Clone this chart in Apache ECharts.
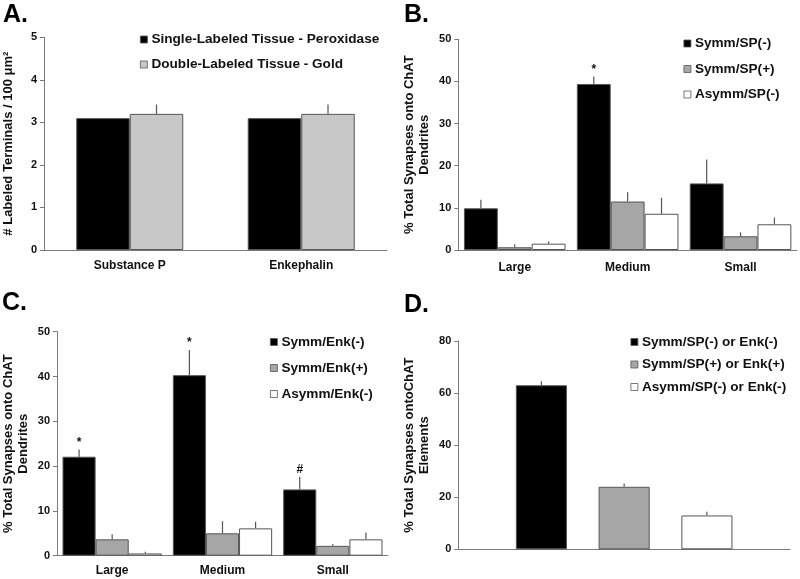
<!DOCTYPE html>
<html>
<head>
<meta charset="utf-8">
<script src="https://cdn.jsdelivr.net/npm/echarts@6/dist/echarts.min.js"></script>
<style>html,body{margin:0;padding:0;background:#fff}#c{width:800px;height:579px}</style>
</head>
<body>
<div id="c"></div>
<script>
// ---- Panel A ----
const catsA = ['Substance P', 'Enkephalin'];
const namesA = ['Single-Labeled Tissue - Peroxidase', 'Double-Labeled Tissue - Gold'];
const singleA = [3.1, 3.1];
const singleAErr = [0, 0];
const doubleA = [3.2, 3.2];
const doubleAErr = [0.22, 0.22];
const ticksA = [0, 1, 2, 3, 4, 5];

// ---- Panel B ----
const catsB = ['Large', 'Medium', 'Small'];
const namesB = ['Symm/SP(-)', 'Symm/SP(+)', 'Asymm/SP(-)'];
const symmSPneg = [9.9, 39.4, 15.8];
const symmSPnegErr = [2.0, 1.8, 5.7];
const symmSPpos = [0.65, 11.5, 3.25];
const symmSPposErr = [0.7, 2.2, 0.95];
const asymmSPneg = [1.5, 8.6, 6.1];
const asymmSPnegErr = [0.5, 3.8, 1.6];
const marksB = ['', '*', ''];

// ---- Panel C ----
const catsC = ['Large', 'Medium', 'Small'];
const namesC = ['Symm/Enk(-)', 'Symm/Enk(+)', 'Asymm/Enk(-)'];
const symmEnkNeg = [22.1, 40.3, 14.8];
const symmEnkNegErr = [1.6, 5.6, 2.8];
const symmEnkPos = [3.65, 5.0, 2.2];
const symmEnkPosErr = [1.15, 2.7, 0.4];
const asymmEnkNeg = [0.5, 6.1, 3.65];
const asymmEnkNegErr = [0.4, 1.5, 1.55];
const marksC = ['*', '*', '#'];

// ---- Panel D ----
const catsD = [''];
const namesD = ['Symm/SP(-) or Enk(-)', 'Symm/SP(+) or Enk(+)', 'Asymm/SP(-) or Enk(-)'];
const symmNegD = [63];
const symmNegDErr = [1.5];
const symmPosD = [24];
const symmPosDErr = [1.3];
const asymmNegD = [13];
const asymmNegDErr = [1.4];

const FONT = '"Liberation Sans", Arial, sans-serif';
const BLACK = '#000000', LGRAY = '#c8c8c8', MGRAY = '#a6a6a6', WHITE = '#ffffff';
const AXC = '#7a7a7a';

const layouts = [
  {catGap: 0.376, barGap: 0},
  {catGap: 0.10, barGap: 0},
  {catGap: 0.10, barGap: 0},
  {barWidthFrac: 0.154, barGap: 0.62}
];

function barSeries(g, name, data, color) {
  const L = layouts[g];
  const s = {
    type: 'bar', name: name, data: data, xAxisIndex: g, yAxisIndex: g,
    barGap: (L.barGap * 100) + '%',
    itemStyle: {color: color, borderColor: '#555', borderWidth: 1},
    emphasis: {disabled: true}, z: 2
  };
  if (L.barWidthFrac) s.barWidth = (L.barWidthFrac * 100) + '%';
  else s.barCategoryGap = (L.catGap * 100) + '%';
  return s;
}

function errSeries(g, n, i, vals, errs, marks) {
  const L = layouts[g];
  return {
    type: 'custom', xAxisIndex: g, yAxisIndex: g, z: 5, silent: true,
    data: vals.map((v, k) => [k, v, errs[k]]),
    encode: {x: 0, y: 1},
    renderItem: function (params, api) {
      const k = api.value(0), v = api.value(1), e = api.value(2);
      const catW = api.size([1, 0])[0];
      const gap = L.barGap;
      const bw = L.barWidthFrac ? catW * L.barWidthFrac : catW * (1 - L.catGap) / (n + (n - 1) * gap);
      const total = n * bw + (n - 1) * bw * gap;
      const off = -total / 2 + i * bw * (1 + gap) + bw / 2;
      const p0 = api.coord([k, v]);
      const p1 = api.coord([k, v + e]);
      const children = [];
      if (e > 0) {
        children.push({type: 'line', shape: {x1: p0[0] + off, y1: p0[1], x2: p1[0] + off, y2: p1[1]},
          style: {stroke: '#555', lineWidth: 1.2}});
      }
      const m = marks ? marks[k] : '';
      if (m) {
        children.push({type: 'text', x: p1[0] + off, y: p1[1] - 1,
          style: {text: m, fill: '#111', font: 'bold 12px ' + FONT, align: 'center', verticalAlign: 'bottom'}});
      }
      return {type: 'group', children: children};
    }
  };
}

function yAxis(g, max, interval, name, gap) {
  return {
    type: 'value', gridIndex: g, min: 0, max: max, interval: interval,
    name: name, nameLocation: 'middle', nameGap: gap, nameRotate: 90,
    nameTextStyle: {fontFamily: FONT, fontWeight: 'bold', fontSize: 13, color: '#111', lineHeight: 15, align: 'center'},
    axisLine: {show: true, lineStyle: {color: AXC, width: 1}},
    axisTick: {show: true, length: 4, lineStyle: {color: AXC}},
    axisLabel: {fontFamily: FONT, fontWeight: 'bold', fontSize: 11, color: '#111', margin: 7},
    splitLine: {show: false}
  };
}
function xAxis(g, cats, margin, showLabel) {
  return {
    type: 'category', gridIndex: g, data: cats,
    axisLine: {show: true, lineStyle: {color: AXC, width: 1}},
    axisTick: {show: false},
    axisLabel: {show: showLabel, fontFamily: FONT, fontWeight: 'bold', fontSize: 12, color: '#111', margin: margin}
  };
}
function legend(names, left, top, gap) {
  return {
    data: names, orient: 'vertical', left: left, top: top, itemGap: gap, padding: 0,
    icon: 'rect', itemWidth: 7, itemHeight: 7, selectedMode: false,
    itemStyle: {borderColor: '#555', borderWidth: 0.8},
    textStyle: {fontFamily: FONT, fontWeight: 'bold', fontSize: 13.6, color: '#111', lineHeight: 14, padding: [0, 0, 0, -1]}
  };
}

const option = {
  animation: false,
  backgroundColor: '#ffffff',
  grid: [
    {left: 41, top: 37.3, width: 346, height: 212.7},
    {left: 458.3, top: 39.3, width: 338.7, height: 210.7},
    {left: 50.7, top: 331.7, width: 337.3, height: 224},
    {left: 458.3, top: 341, width: 331.7, height: 208.3}
  ],
  xAxis: [
    xAxis(0, catsA, 10, true),
    xAxis(1, catsB, 12, true),
    xAxis(2, catsC, 9, true),
    xAxis(3, catsD, 10, false)
  ],
  yAxis: [
    yAxis(0, 5, 1, '# Labeled Terminals / 100 \u03bcm\u00b2', 28),
    yAxis(1, 50, 10, '% Total Synapses onto ChAT\nDendrites', 26),
    yAxis(2, 50, 10, '% Total Synapses onto ChAT\nDendrites', 26),
    yAxis(3, 80, 20, '% Total Synapses ontoChAT\nElements', 26)
  ],
  legend: [
    legend(namesA, 140, 32.5, 11),
    legend(namesB, 683.5, 36.5, 11.5),
    legend(namesC, 270, 335, 12),
    legend(namesD, 630.5, 335, 8.5)
  ],
  graphic: [
    {type: 'text', left: 3, top: 3, style: {text: 'A.', font: 'bold 25px ' + FONT, fill: '#000'}},
    {type: 'text', left: 404, top: 3, style: {text: 'B.', font: 'bold 25px ' + FONT, fill: '#000'}},
    {type: 'text', left: 2, top: 291, style: {text: 'C.', font: 'bold 25px ' + FONT, fill: '#000'}},
    {type: 'text', left: 404, top: 293, style: {text: 'D.', font: 'bold 25px ' + FONT, fill: '#000'}}
  ],
  series: [
    barSeries(0, namesA[0], singleA, BLACK),
    barSeries(0, namesA[1], doubleA, LGRAY),
    errSeries(0, 2, 0, singleA, singleAErr, null),
    errSeries(0, 2, 1, doubleA, doubleAErr, null),

    barSeries(1, namesB[0], symmSPneg, BLACK),
    barSeries(1, namesB[1], symmSPpos, MGRAY),
    barSeries(1, namesB[2], asymmSPneg, WHITE),
    errSeries(1, 3, 0, symmSPneg, symmSPnegErr, marksB),
    errSeries(1, 3, 1, symmSPpos, symmSPposErr, null),
    errSeries(1, 3, 2, asymmSPneg, asymmSPnegErr, null),

    barSeries(2, namesC[0], symmEnkNeg, BLACK),
    barSeries(2, namesC[1], symmEnkPos, MGRAY),
    barSeries(2, namesC[2], asymmEnkNeg, WHITE),
    errSeries(2, 3, 0, symmEnkNeg, symmEnkNegErr, marksC),
    errSeries(2, 3, 1, symmEnkPos, symmEnkPosErr, null),
    errSeries(2, 3, 2, asymmEnkNeg, asymmEnkNegErr, null),

    barSeries(3, namesD[0], symmNegD, BLACK),
    barSeries(3, namesD[1], symmPosD, MGRAY),
    barSeries(3, namesD[2], asymmNegD, WHITE),
    errSeries(3, 3, 0, symmNegD, symmNegDErr, null),
    errSeries(3, 3, 1, symmPosD, symmPosDErr, null),
    errSeries(3, 3, 2, asymmNegD, asymmNegDErr, null)
  ]
};

const chart = echarts.init(document.getElementById('c'), null, {renderer: 'canvas'});
chart.setOption(option);
</script>
</body>
</html>
